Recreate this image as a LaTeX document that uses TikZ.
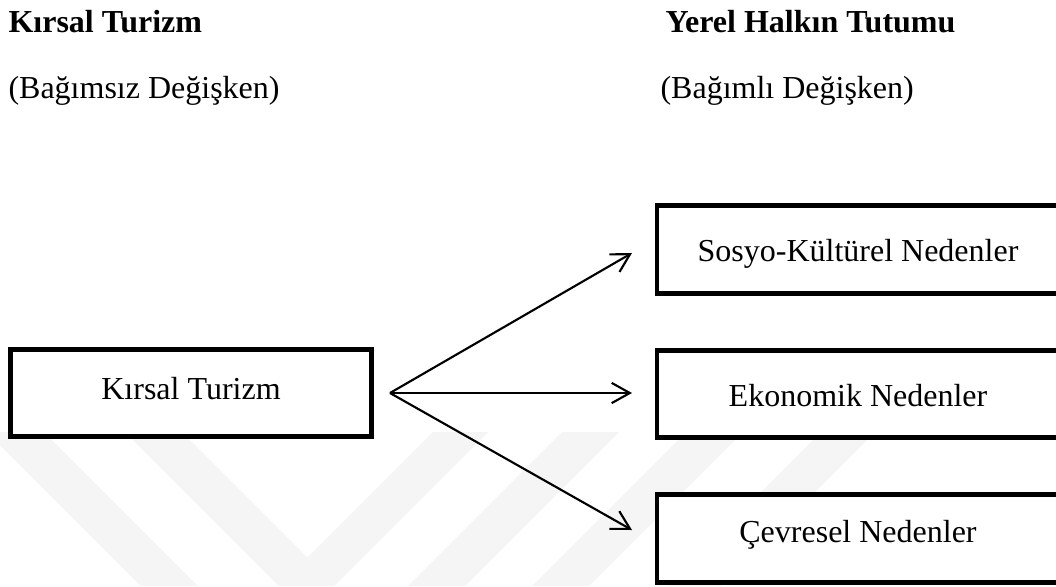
\documentclass[tikz,border=0pt]{standalone}
\usepackage{fontspec}
\setmainfont{Liberation Serif}
\usetikzlibrary{arrows.meta}
\tikzset{
  txt/.style={inner sep=0pt, font=\fontsize{12pt}{14pt}\selectfont},
  head/.style={txt, font=\fontsize{12pt}{14pt}\selectfont\bfseries},
  box/.style={draw=black, fill=white, line width=1.85pt, rectangle, inner sep=0pt},
  arr/.style={line width=0.8pt, -{Straight Barb[length=6.8pt,width=7.6pt]}},
  wm/.style={fill=black!4, draw=none}
}
\begin{document}
\begin{tikzpicture}[x=0.375pt, y=-0.375pt]
\useasboundingbox (0,0) rectangle (1056,586);
\clip (0,0) rectangle (1056,586);
\fill[white] (0,0) rectangle (1056,586);
% faint watermark bands
\path[wm] (-13,432) -- (44,432) -- (198,586) -- (141,586) -- cycle;
\path[wm] (125,432) -- (182,432) -- (307.5,557.5) -- (433,432) -- (488,432) -- (334,586) -- (279,586) -- cycle;
\path[wm] (562,432) -- (619,432) -- (465,586) -- (408,586) -- cycle;
\path[wm] (686,432) -- (743,432) -- (589,586) -- (532,586) -- cycle;
\path[wm] (821,432) -- (875,432) -- (721,586) -- (667,586) -- cycle;
% headings
\node[head, anchor=base west] (h1) at (8,32) {Kırsal Turizm};
\node[txt, anchor=base west] (s1) at (8,98) {(Bağımsız Değişken)};
\node[head, anchor=base west] (h2) at (665,32) {Yerel Halkın Tutumu};
\node[txt, anchor=base west] (s2) at (660,98) {(Bağımlı Değişken)};
% boxes
\node[box, minimum width=135.4pt, minimum height=32.6pt] (kt) at (191,393) {};
\node[box, minimum width=150.75pt, minimum height=33pt] (sk) at (858,249.5) {};
\node[box, minimum width=150.75pt, minimum height=32.6pt] (ek) at (858,394) {};
\node[box, minimum width=150.75pt, minimum height=33pt] (cv) at (858,538.5) {};
% box texts
\node[txt, anchor=base] (ktt) at (191,399) {Kırsal Turizm};
\node[txt, anchor=base] (skt) at (858,261) {Sosyo-Kültürel Nedenler};
\node[txt, anchor=base] (ekt) at (858,406) {Ekonomik Nedenler};
\node[txt, anchor=base] (cvt) at (858,542) {Çevresel Nedenler};
% connectors
\coordinate (hub) at (390,393);
\coordinate (t1) at (632,253);
\coordinate (t2) at (632,393);
\coordinate (t3) at (632,530);
\draw[arr] (hub) -- (t1);
\draw[arr] (hub) -- (t2);
\draw[arr] (hub) -- (t3);
\end{tikzpicture}
\end{document}
